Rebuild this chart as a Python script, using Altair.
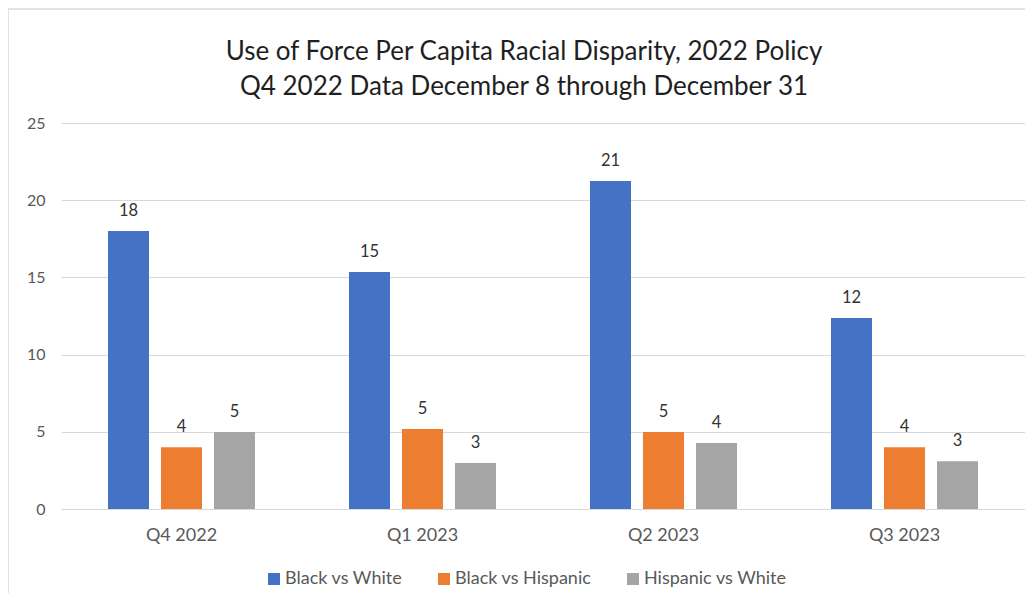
import altair as alt
import pandas as pd

quarters = ["Q4 2022", "Q1 2023", "Q2 2023", "Q3 2023"]
series = ["Black vs White", "Black vs Hispanic", "Hispanic vs White"]
black_vs_white = [18.0, 15.35, 21.24, 12.37]
black_vs_hispanic = [4.0, 5.18, 4.99, 4.0]
hispanic_vs_white = [4.99, 2.98, 4.27, 3.1]
colors = ["#4472C4", "#ED7D31", "#A5A5A5"]
title_line1 = "Use of Force Per Capita Racial Disparity, 2022 Policy"
title_line2 = "Q4 2022 Data December  8 through December  31"

rows = []
for i, q in enumerate(quarters):
    for s, vals in zip(series, [black_vs_white, black_vs_hispanic, hispanic_vs_white]):
        rows.append({"quarter": q, "series": s, "value": vals[i]})
df = pd.DataFrame(rows)

FONT = "Lato"
W, H = 964, 386

x = alt.X("quarter:N", sort=quarters, title=None,
          scale=alt.Scale(paddingInner=0.39, paddingOuter=0.195),
          axis=alt.Axis(labelAngle=0, ticks=False, domain=False, grid=False,
                        labelPadding=17, labelFontSize=18, labelColor="#595959",
                        labelFont=FONT))
xo = alt.XOffset("series:N", sort=series,
                 scale=alt.Scale(paddingInner=0.226, paddingOuter=0))
y = alt.Y("value:Q", title=None,
          scale=alt.Scale(domain=[0, 25], nice=False),
          axis=alt.Axis(values=[0, 5, 10, 15, 20, 25], ticks=False, domain=False,
                        grid=True, labelPadding=16, labelFontSize=16,
                        labelColor="#595959", labelFont=FONT,
                        gridColor="#D9D9D9", gridWidth=1.2))

base = alt.Chart(df)
bars = base.mark_bar().encode(
    x=x, xOffset=xo, y=y,
    color=alt.Color("series:N", sort=series,
                    scale=alt.Scale(domain=series, range=colors),
                    legend=alt.Legend(title=None, orient="none", direction="horizontal",
                                      legendX=204, legendY=447, padding=0,
                                      symbolType="square", symbolSize=144,
                                      symbolStrokeWidth=0,
                                      labelFontSize=18, labelColor="#595959",
                                      labelFont=FONT, columnPadding=32,
                                      symbolOffset=0, labelOffset=2)),
)
labels = base.mark_text(baseline="bottom", dy=-12, fontSize=16.5, color="#333333",
                        font=FONT).encode(
    x=alt.X("quarter:N", sort=quarters), xOffset=alt.XOffset("series:N", sort=series),
    y="value:Q", text=alt.Text("value:Q", format=".0f"))

border = alt.Chart(pd.DataFrame({"a": [0]})).mark_rect(
    fill=None, stroke="#D9D9D9", strokeWidth=1.5, clip=False).encode(
    x=alt.value(-53), x2=alt.value(W + 20), y=alt.value(-114), y2=alt.value(H + 120))

def title_text(line, ypos):
    return alt.Chart(pd.DataFrame({"line": [line]})).mark_text(
        fontSize=26, font=FONT, color="#1F1F1F", baseline="middle", align="center"
    ).encode(x=alt.value(463), y=alt.value(ypos), text="line:N")

chart = alt.layer(border, bars, labels,
                  title_text(title_line1, -71), title_text(title_line2, -36)).properties(
    width=W, height=H,
    autosize=alt.AutoSizeParams(type="none"),
    padding={"left": 53, "top": 115, "right": 0, "bottom": 84},
).configure_view(stroke=None)

chart.save("out.html", embed_options={"renderer": "svg", "actions": False})
